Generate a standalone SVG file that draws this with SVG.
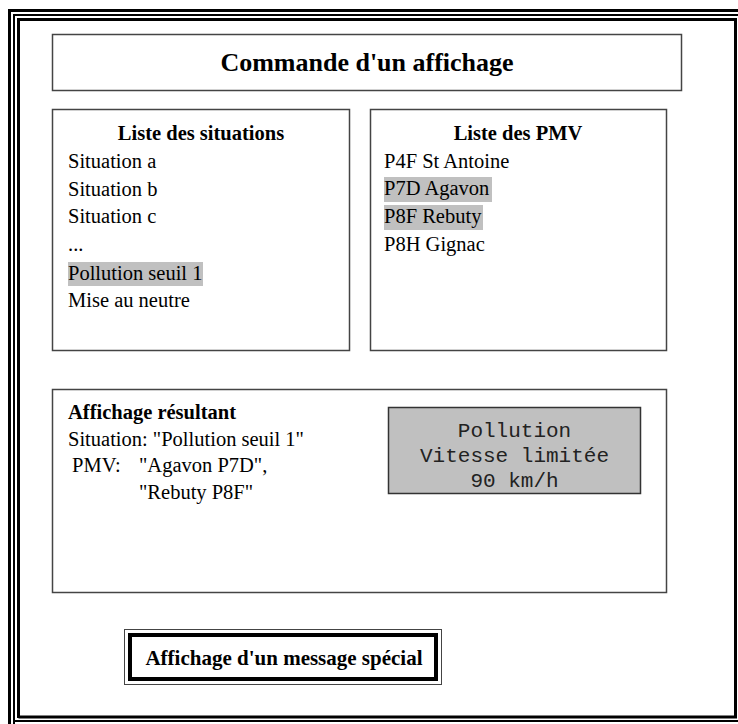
<svg xmlns="http://www.w3.org/2000/svg" width="738" height="724" viewBox="0 0 738 724">
<style>
.frame{fill:none;stroke:#000}
.box{fill:#fff;stroke:#444;stroke-width:1.5}
.t{font-family:"Liberation Serif","Times New Roman",serif;font-size:20.5px;fill:#000}
.b{font-weight:bold}
.big{font-size:26px}
.btn{font-size:21px}
.m{font-family:"Liberation Mono","Courier New",monospace;font-size:21px;fill:#222}
.hl{fill:#c0c0c0}
</style>
<rect width="738" height="724" fill="#fff"/>
<g id="frame">
<path class="frame" stroke-width="3" d="M9.5 724V10.5H738"/>
<path class="frame" stroke-width="2" d="M14 724V15H738M14 721H738"/>
<path class="frame" stroke-width="3" d="M18.5 718V19.5H735.5V717H18.5"/>
</g>
<g id="title">
<rect class="box" x="52.5" y="34.5" width="629" height="56"/>
<text class="t b big" x="367" y="71" text-anchor="middle">Commande d'un affichage</text>
</g>
<g id="situations">
<rect class="box" x="52.5" y="109.5" width="297" height="241"/>
<text class="t b" x="201" y="140" text-anchor="middle">Liste des situations</text>
<text class="t" x="68" y="168">Situation a</text>
<text class="t" x="68" y="196">Situation b</text>
<text class="t" x="68" y="223">Situation c</text>
<text class="t" x="68" y="251">...</text>
<rect class="hl" x="68" y="262" width="135" height="24"/>
<text class="t" x="68" y="280">Pollution seuil 1</text>
<text class="t" x="68" y="307">Mise au neutre</text>
</g>
<g id="pmv">
<rect class="box" x="370.5" y="109.5" width="296" height="241"/>
<text class="t b" x="518" y="140" text-anchor="middle">Liste des PMV</text>
<text class="t" x="384" y="168">P4F St Antoine</text>
<rect class="hl" x="384" y="177" width="108" height="25"/>
<text class="t" x="384" y="195">P7D Agavon</text>
<rect class="hl" x="384" y="205" width="99" height="25"/>
<text class="t" x="384" y="223">P8F Rebuty</text>
<text class="t" x="384" y="251">P8H Gignac</text>
</g>
<g id="result">
<rect class="box" x="52.5" y="389.5" width="614" height="203"/>
<text class="t b" x="68" y="419">Affichage résultant</text>
<text class="t" x="68" y="446">Situation: "Pollution seuil 1"</text>
<text class="t" x="72" y="472">PMV:</text>
<text class="t" x="139" y="472">"Agavon P7D",</text>
<text class="t" x="139" y="499">"Rebuty P8F"</text>
</g>
<g id="display">
<rect x="388.5" y="407.5" width="252" height="86" fill="#c0c0c0" stroke="#333" stroke-width="1.5"/>
<text class="m" x="514.5" y="437" text-anchor="middle">Pollution</text>
<text class="m" x="514.5" y="462" text-anchor="middle">Vitesse limitée</text>
<text class="m" x="514.5" y="487" text-anchor="middle">90 km/h</text>
</g>
<g id="special">
<rect x="124.5" y="629.5" width="317" height="55" fill="#fff" stroke="#444" stroke-width="1"/>
<rect x="130" y="635" width="306" height="44" fill="#fff" stroke="#000" stroke-width="4"/>
<text class="t b btn" x="284" y="665" text-anchor="middle">Affichage d'un message spécial</text>
</g>
</svg>
